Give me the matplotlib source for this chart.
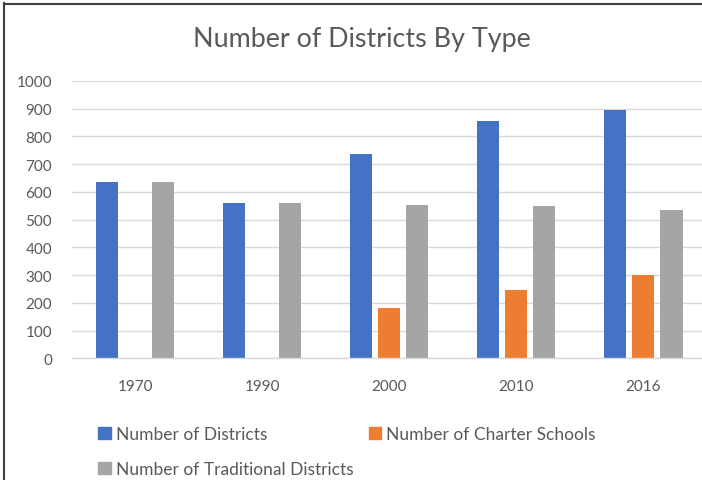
import matplotlib.pyplot as plt
import numpy as np
from matplotlib.lines import Line2D
from matplotlib.patches import Patch

years = ["1970", "1990", "2000", "2010", "2016"]
districts = [636, 559, 735, 855, 893]
charter_schools = [0, 0, 181, 246, 299]
traditional = [636, 559, 554, 550, 535]

series = [
    ("Number of Districts", districts, "#4472C4"),
    ("Number of Charter Schools", charter_schools, "#ED7D31"),
    ("Number of Traditional Districts", traditional, "#A5A5A5"),
]

plt.rcParams["font.family"] = ["Lato", "DejaVu Sans"]
text_color = "#595959"

fig = plt.figure(figsize=(7.02, 4.81), dpi=100)
ax = fig.add_axes([0.1021, 0.253, 0.9047, 0.577])

x = np.arange(len(years))
width = 0.174
offset = 0.222
for i, (label, values, color) in enumerate(series):
    ax.bar(x + (i - 1) * offset, values, width, color=color, label=label, zorder=2)

ax.set_xlim(-0.5, len(years) - 0.5)
ax.set_ylim(0, 1000)
ax.set_yticks(range(0, 1001, 100))
ax.set_xticks(x)
ax.set_xticklabels(years)
ax.grid(axis="y", color="#D9D9D9", linewidth=1.0, zorder=0)
for side in ["top", "right", "left"]:
    ax.spines[side].set_visible(False)
ax.spines["bottom"].set_color("#D9D9D9")
ax.spines["bottom"].set_linewidth(1.0)
ax.tick_params(axis="y", length=0, pad=14, labelsize=11, labelcolor=text_color)
ax.tick_params(axis="x", length=0, pad=15, labelsize=11, labelcolor=text_color)

fig.text(0.515, 0.917, "Number of Districts By Type", ha="center", va="center",
         fontsize=19.4, color=text_color)

# legend fills column by column: districts and traditional on the left, charter on the right
handles = [Patch(color=c, label=l) for l, _, c in series]
handles = [handles[0], handles[2], handles[1]]
fig.legend(handles=handles, loc="upper left", bbox_to_anchor=(0.118, 0.145),
           ncol=2, frameon=False, fontsize=12.5, labelcolor=text_color,
           handlelength=0.7, handleheight=0.7, handletextpad=0.3,
           columnspacing=0.9, labelspacing=1.1)

# frame lines along the left and top edges
fig.add_artist(Line2D([3.5 / 702, 3.5 / 702], [0, 1 - 4 / 481], transform=fig.transFigure,
                      color="#404040", linewidth=1.5))
fig.add_artist(Line2D([3.5 / 702, 1], [1 - 5 / 481, 1 - 5 / 481], transform=fig.transFigure,
                      color="#404040", linewidth=1.5))

fig.savefig("out.png", dpi=100)
